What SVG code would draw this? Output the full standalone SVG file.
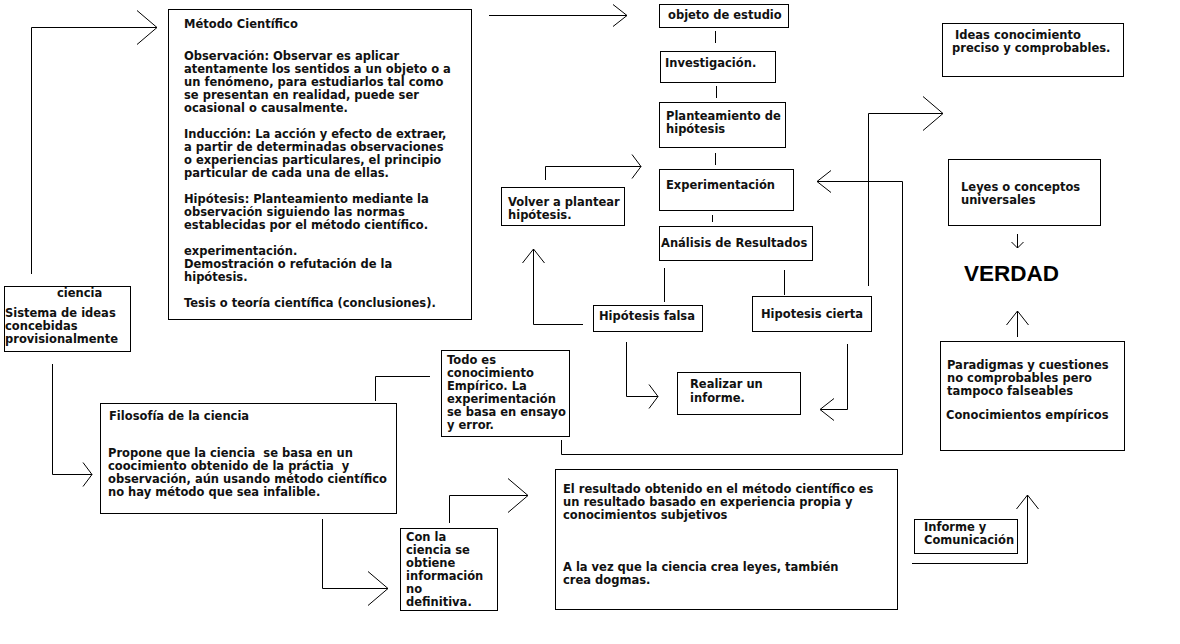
<svg xmlns="http://www.w3.org/2000/svg" width="1180" height="644" viewBox="0 0 1180 644">
<style>
.bg{fill:#fff}
.box{fill:#fff;stroke:#000;stroke-width:1}
.ln{fill:none;stroke:#000;stroke-width:1}
text{font-family:"DejaVu Sans","Verdana",sans-serif;font-weight:bold;font-size:11.5px;fill:#111}
.big{font-family:"Liberation Sans",Arial,sans-serif;font-size:22.5px;fill:#000}
</style>
<defs>
<marker id="mL" markerUnits="userSpaceOnUse" orient="auto" markerWidth="1" markerHeight="1" refX="0" refY="0" overflow="visible"><path d="M-20,-17 L0,0 L-20,17" class="ln"/></marker>
<marker id="mM" markerUnits="userSpaceOnUse" orient="auto" markerWidth="1" markerHeight="1" refX="0" refY="0" overflow="visible"><path d="M-14,-11 L0,0 L-14,11" class="ln"/></marker>
<marker id="mN" markerUnits="userSpaceOnUse" orient="auto" markerWidth="1" markerHeight="1" refX="0" refY="0" overflow="visible"><path d="M-9,-12 L0,0 L-9,12" class="ln"/></marker>
<marker id="mS" markerUnits="userSpaceOnUse" orient="auto" markerWidth="1" markerHeight="1" refX="0" refY="0" overflow="visible"><path d="M-6,-6 L0,0 L-6,6" class="ln"/></marker>
</defs>
<rect class="bg" x="0" y="0" width="1180" height="644"/>

<g id="connectors">
<polyline class="ln" points="31.5,274 31.5,27.5 157,27.5" marker-end="url(#mL)"/>
<polyline class="ln" points="489,15.5 627,15.5" marker-end="url(#mM)"/>
<line class="ln" x1="715.5" y1="31" x2="715.5" y2="43"/>
<line class="ln" x1="716.5" y1="86" x2="716.5" y2="98"/>
<line class="ln" x1="715.5" y1="153" x2="715.5" y2="165"/>
<line class="ln" x1="712.5" y1="215" x2="712.5" y2="222"/>
<line class="ln" x1="664.5" y1="268" x2="664.5" y2="302"/>
<line class="ln" x1="784.5" y1="270" x2="784.5" y2="295"/>
<polyline class="ln" points="583,324.5 533.5,324.5 533.5,249" marker-end="url(#mM)"/>
<polyline class="ln" points="545.5,180 545.5,166.5 641,166.5" marker-end="url(#mN)"/>
<polyline class="ln" points="626.5,342 626.5,396.5 658,396.5" marker-end="url(#mN)"/>
<polyline class="ln" points="847.5,344 847.5,409.5 820,409.5" marker-end="url(#mM)"/>
<polyline class="ln" points="868.5,286 868.5,113.5 943,113.5" marker-end="url(#mL)"/>
<polyline class="ln" points="561.5,440 561.5,454.5 902.5,454.5 902.5,181.5 817,181.5" marker-end="url(#mM)"/>
<polyline class="ln" points="1017.5,234 1017.5,248" marker-end="url(#mS)"/>
<polyline class="ln" points="1017.5,337 1017.5,311" marker-end="url(#mM)"/>
<polyline class="ln" points="912,563.5 1027.5,563.5 1027.5,495" marker-end="url(#mM)"/>
<polyline class="ln" points="52.5,364 52.5,474.5 92,474.5" marker-end="url(#mN)"/>
<polyline class="ln" points="375.5,401 375.5,376.5 430,376.5"/>
<polyline class="ln" points="322.5,519 322.5,588.5 388,588.5" marker-end="url(#mL)"/>
<polyline class="ln" points="449.5,523 449.5,495.5 528,495.5" marker-end="url(#mL)"/>
</g>

<g id="metodo">
<rect class="box" x="168.5" y="9.5" width="303" height="310"/>
<text x="184" y="28">Método Científico</text>
<text x="184" y="60">Observación: Observar es aplicar</text>
<text x="184" y="73">atentamente los sentidos a un objeto o a</text>
<text x="184" y="86">un fenómeno, para estudiarlos tal como</text>
<text x="184" y="99">se presentan en realidad, puede ser</text>
<text x="184" y="112">ocasional o causalmente.</text>
<text x="184" y="138">Inducción: La acción y efecto de extraer,</text>
<text x="184" y="151">a partir de determinadas observaciones</text>
<text x="184" y="164">o experiencias particulares, el principio</text>
<text x="184" y="177">particular de cada una de ellas.</text>
<text x="184" y="203">Hipótesis: Planteamiento mediante la</text>
<text x="184" y="216">observación siguiendo las normas</text>
<text x="184" y="229">establecidas por el método científico.</text>
<text x="184" y="255">experimentación.</text>
<text x="184" y="268">Demostración o refutación de la</text>
<text x="184" y="281">hipótesis.</text>
<text x="184" y="307">Tesis o teoría científica (conclusiones).</text>
</g>

<g id="ciencia">
<rect class="box" x="4.5" y="286.5" width="126" height="65"/>
<text x="57" y="297">ciencia</text>
<text x="5" y="317">Sistema de ideas</text>
<text x="5" y="330">concebidas</text>
<text x="5" y="343">provisionalmente</text>
</g>

<g id="objeto">
<rect class="box" x="659.5" y="4.5" width="129" height="23"/>
<text x="668" y="19">objeto de estudio</text>
</g>
<g id="investigacion">
<rect class="box" x="660.5" y="51.5" width="115" height="31"/>
<text x="665" y="67">Investigación.</text>
</g>
<g id="planteamiento">
<rect class="box" x="659.5" y="102.5" width="126" height="45"/>
<text x="666" y="120">Planteamiento de</text>
<text x="666" y="133">hipótesis</text>
</g>
<g id="experimentacion">
<rect class="box" x="659.5" y="169.5" width="134" height="41"/>
<text x="666" y="189">Experimentación</text>
</g>
<g id="analisis">
<rect class="box" x="659.5" y="226.5" width="153" height="34"/>
<text x="661" y="247">Análisis de Resultados</text>
</g>
<g id="falsa">
<rect class="box" x="593.5" y="305.5" width="109" height="26"/>
<text x="599" y="320">Hipótesis falsa</text>
</g>
<g id="cierta">
<rect class="box" x="752.5" y="296.5" width="119" height="35"/>
<text x="761" y="318">Hipotesis cierta</text>
</g>
<g id="volver">
<rect class="box" x="501.5" y="187.5" width="123" height="38"/>
<text x="508" y="206">Volver a plantear</text>
<text x="508" y="219">hipótesis.</text>
</g>
<g id="realizar">
<rect class="box" x="677.5" y="372.5" width="123" height="42"/>
<text x="690" y="388">Realizar un</text>
<text x="690" y="402">informe.</text>
</g>
<g id="todo">
<rect class="box" x="441.5" y="350.5" width="128" height="86"/>
<text x="447" y="364">Todo es</text>
<text x="447" y="377">conocimiento</text>
<text x="447" y="390">Empírico. La</text>
<text x="447" y="403">experimentación</text>
<text x="447" y="416">se basa en ensayo</text>
<text x="447" y="429">y error.</text>
</g>
<g id="filosofia">
<rect class="box" x="100.5" y="403.5" width="296" height="110"/>
<text x="109" y="420">Filosofía de la ciencia</text>
<text x="108" y="457">Propone que la ciencia&#160; se basa en un</text>
<text x="108" y="470">coocimiento obtenido de la práctia&#160; y</text>
<text x="108" y="483">observación, aún usando método científico</text>
<text x="108" y="496">no hay método que sea infalible.</text>
</g>
<g id="con">
<rect class="box" x="400.5" y="528.5" width="97" height="82"/>
<text x="406" y="541">Con la</text>
<text x="406" y="554">ciencia se</text>
<text x="406" y="567">obtiene</text>
<text x="406" y="580">información</text>
<text x="406" y="593">no</text>
<text x="406" y="606">definitiva.</text>
</g>
<g id="resultado">
<rect class="box" x="555.5" y="469.5" width="342" height="140"/>
<text x="563" y="493">El resultado obtenido en el método científico es</text>
<text x="563" y="506">un resultado basado en experiencia propia y</text>
<text x="563" y="519">conocimientos subjetivos</text>
<text x="563" y="571">A la vez que la ciencia crea leyes, también</text>
<text x="563" y="584">crea dogmas.</text>
</g>
<g id="informe">
<rect class="box" x="914.5" y="519.5" width="103" height="34"/>
<text x="924" y="531">Informe y</text>
<text x="924" y="544">Comunicación</text>
</g>
<g id="paradigmas">
<rect class="box" x="940.5" y="341.5" width="184" height="109"/>
<text x="947" y="369">Paradigmas y cuestiones</text>
<text x="947" y="382">no comprobables pero</text>
<text x="947" y="395">tampoco falseables</text>
<text x="946" y="419">Conocimientos empíricos</text>
</g>
<g id="ideas">
<rect class="box" x="942.5" y="23.5" width="181" height="53"/>
<text x="955" y="39">Ideas conocimiento</text>
<text x="952" y="52">preciso y comprobables.</text>
</g>
<g id="leyes">
<rect class="box" x="948.5" y="159.5" width="152" height="66"/>
<text x="961" y="191">Leyes o conceptos</text>
<text x="961" y="204">universales</text>
</g>
<g id="verdad">
<text class="big" x="964" y="281">VERDAD</text>
</g>
</svg>
